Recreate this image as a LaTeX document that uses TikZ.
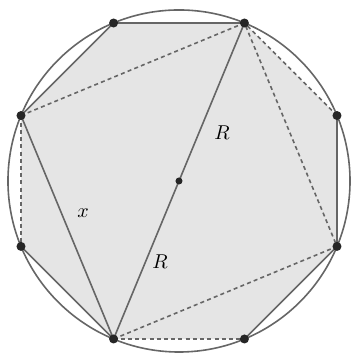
\documentclass[tikz,border=0pt]{standalone}
\begin{document}
\begin{tikzpicture}[line width=0.8pt]
  \tikzset{side/.style={draw=black!60},
           hidden/.style={draw=black!60,dash pattern=on 2pt off 1.6pt},
           vertex/.style={circle,fill=black!85,inner sep=0pt,minimum size=4.5pt}}
  \useasboundingbox (-3.14,-3.035) rectangle (3.07,3.175);
  \foreach \i in {1,...,8} {
    \coordinate (p\i) at ({67.5+45*(\i-1)}:3);
  }
  \coordinate (o) at (0,0);
  \fill[black!10] (p1) -- (p2) -- (p3) -- (p4) -- (p5) -- (p6) -- (p7) -- (p8) -- cycle;
  \draw[side] (o) circle (3);
  % solid sides
  \draw[side] (p1) -- (p2) -- (p3) -- (p5) -- (p4);
  \draw[side] (p6) -- (p7) -- (p8);
  \draw[side] (p1) -- (p5);
  % dashed sides
  \draw[hidden] (p3) -- (p4);
  \draw[hidden] (p5) -- (p6);
  \draw[hidden] (p8) -- (p1);
  \draw[hidden] (p3) -- (p1) -- (p7) -- (p5);
  \foreach \i in {1,...,8} {
    \node[vertex] (v\i) at (p\i) {};
  }
  \node[vertex,minimum size=3.5pt] (vo) at (o) {};
  \node (lblRa) at (0.754,0.842) {$R$};
  \node (lblRb) at (-0.333,-1.42) {$R$};
  \node (lblx) at (-1.684,-0.561) {$x$};
\end{tikzpicture}
\end{document}
